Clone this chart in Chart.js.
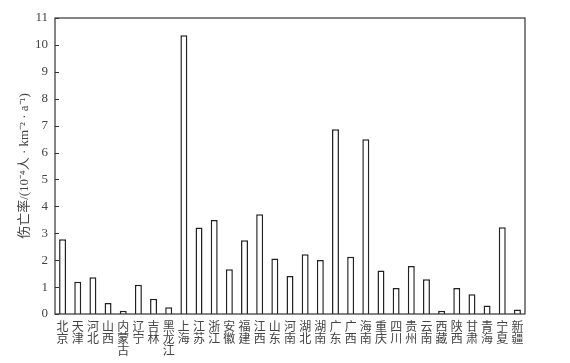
<!DOCTYPE html>
<html>
<head>
<meta charset="utf-8">
<script src="https://cdn.jsdelivr.net/npm/chart.js@4/dist/chart.umd.min.js"></script>
<style>
  html, body { margin: 0; padding: 0; background: #fff; }
  #wrap { width: 570px; height: 363px; }
</style>
</head>
<body>
<div id="wrap"><canvas id="chart"></canvas></div>
<script>
const provinces = ["北京", "天津", "河北", "山西", "内蒙古", "辽宁", "吉林", "黑龙江", "上海", "江苏",
    "浙江", "安徽", "福建", "江西", "山东", "河南", "湖北", "湖南", "广东", "广西",
    "海南", "重庆", "四川", "贵州", "云南", "西藏", "陕西", "甘肃", "青海", "宁夏", "新疆"];
const rates = [2.78, 1.20, 1.37, 0.41, 0.12, 1.09, 0.57, 0.25, 10.36, 3.21,
    3.49, 1.66, 2.74, 3.71, 2.06, 1.41, 2.22, 2.01, 6.87, 2.13,
    6.49, 1.62, 0.97, 1.78, 1.29, 0.12, 0.97, 0.73, 0.32, 3.22, 0.17];
const yTicks = [0, 1, 2, 3, 4, 5, 6, 7, 8, 9, 10, 11];
const yTitle = "伤亡率/(10⁻⁴人 · km⁻² · a⁻¹)";

const cjk = '"Noto Sans CJK SC", "Liberation Serif", serif';
const serif = '"Liberation Serif", "Noto Sans CJK SC", serif';
const ink = '#333';

// frame round the plot and inward tick marks on the y axis
const frame = {
    id: 'frame',
    afterDraw(chart) {
        const ctx = chart.ctx;
        const a = chart.chartArea;
        const y = chart.scales.y;
        ctx.save();
        ctx.strokeStyle = ink;
        ctx.lineWidth = 1.2;
        ctx.strokeRect(a.left, a.top, a.right - a.left, a.bottom - a.top);
        ctx.beginPath();
        yTicks.forEach(v => {
            const py = Math.round(y.getPixelForValue(v)) + 0.5;
            ctx.moveTo(a.left, py);
            ctx.lineTo(a.left + 4, py);
        });
        ctx.stroke();
        ctx.restore();
    }
};

new Chart(document.getElementById('chart'), {
    type: 'bar',
    data: {
        labels: provinces.map(p => p.split('')),
        datasets: [{
            data: rates,
            backgroundColor: '#fff',
            borderColor: '#222',
            borderWidth: 1.5,
            categoryPercentage: 1,
            barPercentage: 0.46
        }]
    },
    options: {
        responsive: true,
        maintainAspectRatio: false,
        animation: false,
        layout: { padding: { left: 0, right: 45, top: 18, bottom: 0 } },
        plugins: { legend: { display: false }, tooltip: { enabled: false } },
        scales: {
            x: {
                grid: { display: false, drawTicks: false },
                border: { display: false },
                ticks: {
                    autoSkip: false, maxRotation: 0, minRotation: 0, padding: 6,
                    color: '#444',
                    font: { family: cjk, size: 12, lineHeight: 1.0 }
                },
                afterFit(s) { s.height = 49; }
            },
            y: {
                min: 0, max: 11,
                grid: { display: false, drawTicks: false },
                border: { display: false },
                afterBuildTicks(s) { s.ticks = yTicks.map(v => ({ value: v })); },
                ticks: {
                    padding: 7,
                    color: '#444',
                    font: { family: serif, size: 13 }
                },
                title: {
                    display: true,
                    text: yTitle,
                    color: '#444',
                    padding: { top: 17, bottom: 0 },
                    font: { family: serif, size: 13 }
                },
                afterFit(s) { s.width = 55; }
            }
        }
    },
    plugins: [frame]
});
</script>
</body>
</html>
